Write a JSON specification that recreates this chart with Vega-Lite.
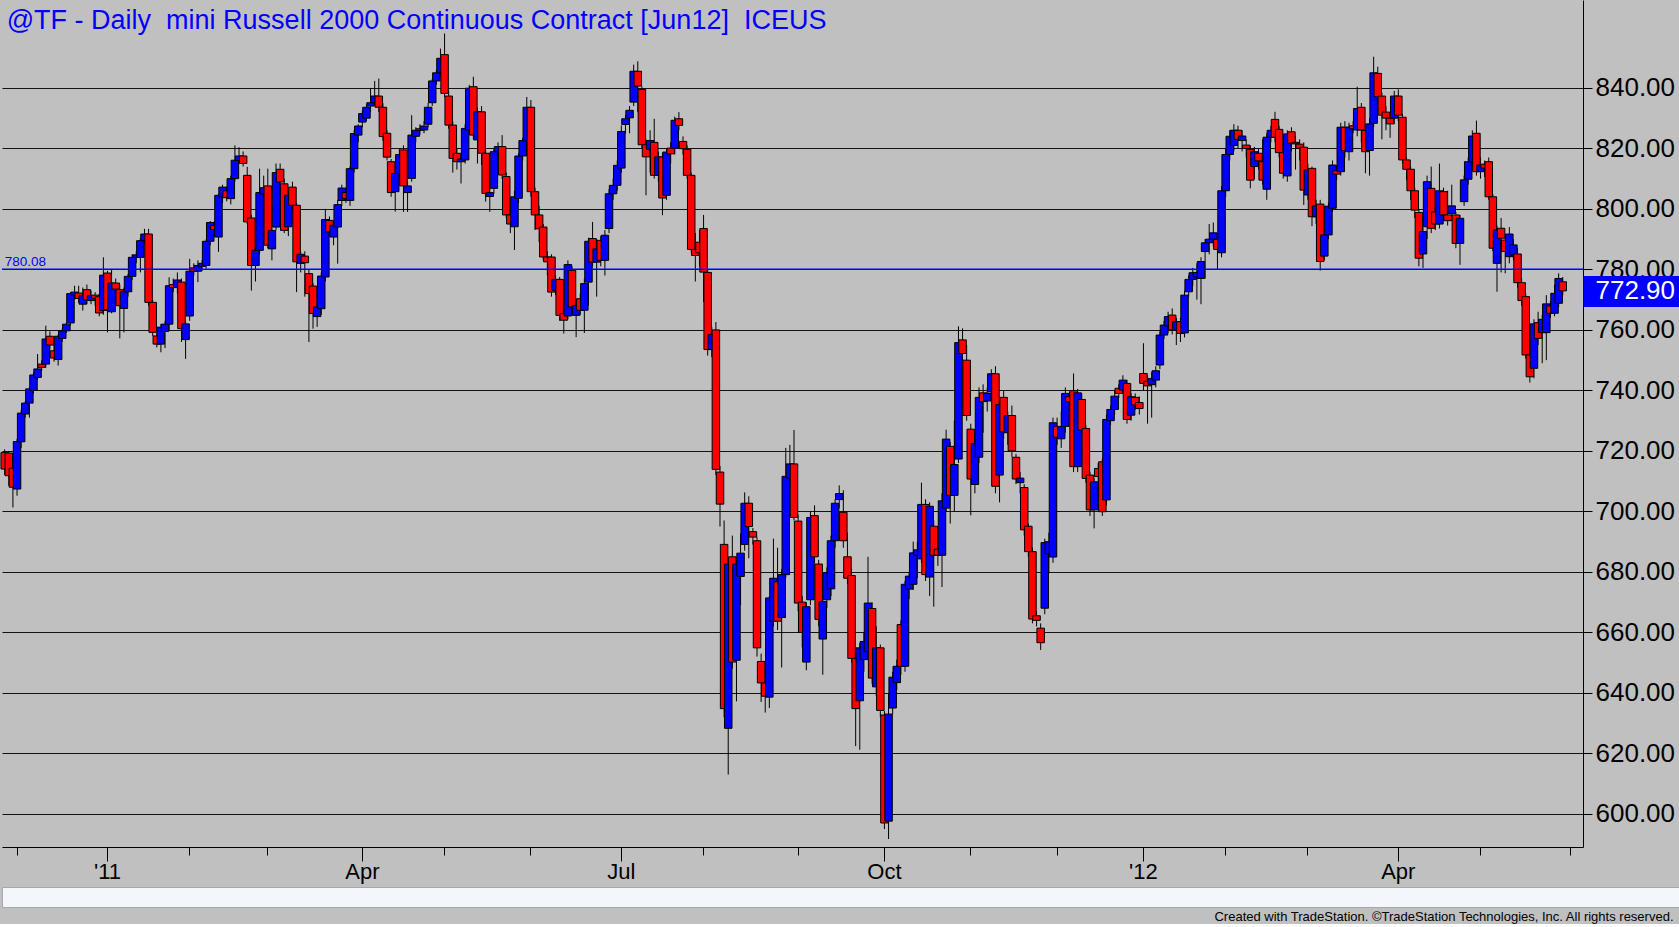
{
  "$schema": "https://vega.github.io/schema/vega-lite/v6.json",
  "background": "#C0C0C0",
  "padding": 0,
  "spacing": 4,
  "title": {
    "text": "Created with TradeStation. ©TradeStation Technologies, Inc. All rights reserved.",
    "orient": "bottom",
    "anchor": "end",
    "font": "Liberation Sans",
    "fontSize": 13,
    "fontWeight": "normal",
    "color": "#000000",
    "offset": 3,
    "dx": -23
  },
  "datasets": {
    "tf": [
      {"d":"2010-11-26","o":719.5,"h":720.5,"l":712,"c":714},
      {"d":"2010-11-29","o":719.3,"h":720,"l":708.5,"c":711.8},
      {"d":"2010-11-30","o":714.3,"h":715,"l":701.3,"c":708},
      {"d":"2010-12-01","o":707.4,"h":724,"l":705.2,"c":723.1},
      {"d":"2010-12-02","o":723,"h":733.5,"l":721,"c":732.5},
      {"d":"2010-12-03","o":732.2,"h":736.5,"l":731,"c":735.8},
      {"d":"2010-12-06","o":735.8,"h":741,"l":731,"c":740.5},
      {"d":"2010-12-07","o":740,"h":746,"l":739,"c":745.1},
      {"d":"2010-12-08","o":744.3,"h":752,"l":743.5,"c":747.1},
      {"d":"2010-12-09","o":748.7,"h":750,"l":746.5,"c":747.6},
      {"d":"2010-12-10","o":748.7,"h":761.4,"l":747.5,"c":757},
      {"d":"2010-12-13","o":757.9,"h":759.5,"l":753.5,"c":755},
      {"d":"2010-12-14","o":753.1,"h":755,"l":749.5,"c":750.7},
      {"d":"2010-12-15","o":750.2,"h":758.5,"l":748.2,"c":757.9},
      {"d":"2010-12-16","o":757.2,"h":760.5,"l":756,"c":759.7},
      {"d":"2010-12-17","o":759.7,"h":762.5,"l":759,"c":761.9},
      {"d":"2010-12-20","o":762.3,"h":772.5,"l":761.5,"c":772},
      {"d":"2010-12-21","o":771.5,"h":774.6,"l":770,"c":772.5},
      {"d":"2010-12-22","o":772.2,"h":774.6,"l":769,"c":770.4},
      {"d":"2010-12-23","o":768.5,"h":774,"l":766.4,"c":771.3},
      {"d":"2010-12-27","o":773.3,"h":775,"l":768.5,"c":770},
      {"d":"2010-12-28","o":769.7,"h":773,"l":768.5,"c":771.3},
      {"d":"2010-12-29","o":771.5,"h":772.5,"l":768,"c":770.5},
      {"d":"2010-12-30","o":771,"h":772,"l":764.5,"c":765.6},
      {"d":"2010-12-31","o":766.4,"h":784,"l":765,"c":778.1},
      {"d":"2011-01-03","o":778.8,"h":779.5,"l":759.2,"c":766.7},
      {"d":"2011-01-04","o":766,"h":780.1,"l":765.5,"c":775.5},
      {"d":"2011-01-05","o":775.5,"h":777,"l":772,"c":773.5},
      {"d":"2011-01-06","o":773.3,"h":775,"l":757.2,"c":768},
      {"d":"2011-01-07","o":767.1,"h":774,"l":759.2,"c":772.6},
      {"d":"2011-01-10","o":772.6,"h":778.5,"l":771,"c":777.7},
      {"d":"2011-01-11","o":777.7,"h":785,"l":776.5,"c":784},
      {"d":"2011-01-12","o":784,"h":786,"l":782,"c":784.8},
      {"d":"2011-01-13","o":784,"h":790.5,"l":779,"c":789.5},
      {"d":"2011-01-14","o":789.5,"h":793.4,"l":788.5,"c":791.7},
      {"d":"2011-01-18","o":791.7,"h":793.4,"l":768,"c":769.1},
      {"d":"2011-01-19","o":769.1,"h":770,"l":758,"c":759.2},
      {"d":"2011-01-20","o":758,"h":759,"l":754.2,"c":755.3},
      {"d":"2011-01-21","o":755.3,"h":762,"l":752.6,"c":760.9},
      {"d":"2011-01-24","o":759.5,"h":763,"l":754,"c":761.9},
      {"d":"2011-01-25","o":761.9,"h":777.4,"l":760,"c":774.6},
      {"d":"2011-01-26","o":775,"h":777,"l":772.5,"c":774},
      {"d":"2011-01-27","o":774,"h":779,"l":772,"c":776.5},
      {"d":"2011-01-28","o":775.8,"h":777,"l":756,"c":760.4},
      {"d":"2011-01-31","o":756.8,"h":763,"l":750.4,"c":762},
      {"d":"2011-02-01","o":764.6,"h":783.5,"l":763,"c":779.4},
      {"d":"2011-02-02","o":780.5,"h":782,"l":778,"c":779.4},
      {"d":"2011-02-03","o":779.4,"h":783,"l":775.8,"c":781.3},
      {"d":"2011-02-04","o":781,"h":783,"l":779.5,"c":782},
      {"d":"2011-02-07","o":781.3,"h":790,"l":780,"c":789.3},
      {"d":"2011-02-08","o":789.3,"h":796,"l":788,"c":795.5},
      {"d":"2011-02-09","o":794.5,"h":796,"l":791,"c":793.2},
      {"d":"2011-02-10","o":790.7,"h":805,"l":785.8,"c":804.5},
      {"d":"2011-02-11","o":803.9,"h":808,"l":802,"c":807.2},
      {"d":"2011-02-14","o":806,"h":807.5,"l":802.5,"c":803.7},
      {"d":"2011-02-15","o":803.4,"h":811,"l":801.5,"c":810},
      {"d":"2011-02-16","o":810,"h":821,"l":809,"c":816.1},
      {"d":"2011-02-17","o":816,"h":820.4,"l":815,"c":817.5},
      {"d":"2011-02-18","o":817.5,"h":819,"l":814,"c":815},
      {"d":"2011-02-22","o":811.1,"h":813.9,"l":795,"c":795.7},
      {"d":"2011-02-23","o":797,"h":798,"l":773,"c":781.3},
      {"d":"2011-02-24","o":781.3,"h":787,"l":776,"c":786.3},
      {"d":"2011-02-25","o":786.3,"h":813.3,"l":785,"c":805.4},
      {"d":"2011-02-28","o":805,"h":811,"l":803,"c":807},
      {"d":"2011-03-01","o":807.6,"h":813.3,"l":787,"c":788},
      {"d":"2011-03-02","o":786.8,"h":794,"l":783,"c":792.9},
      {"d":"2011-03-03","o":794,"h":815,"l":793,"c":812},
      {"d":"2011-03-04","o":813.1,"h":815,"l":807,"c":808.9},
      {"d":"2011-03-07","o":808.3,"h":810,"l":792,"c":792.9},
      {"d":"2011-03-08","o":794.1,"h":806,"l":791,"c":804.5},
      {"d":"2011-03-09","o":807.2,"h":809,"l":799,"c":801.2},
      {"d":"2011-03-10","o":801.2,"h":802,"l":772.5,"c":782.5},
      {"d":"2011-03-11","o":782,"h":786,"l":779,"c":785},
      {"d":"2011-03-14","o":784.4,"h":786,"l":771,"c":782.2},
      {"d":"2011-03-15","o":778.6,"h":780,"l":756,"c":772},
      {"d":"2011-03-16","o":774.5,"h":775.5,"l":760.4,"c":765.4},
      {"d":"2011-03-17","o":764.4,"h":769,"l":761,"c":767.6},
      {"d":"2011-03-18","o":767,"h":779,"l":765,"c":777.8},
      {"d":"2011-03-21","o":777.5,"h":800,"l":776,"c":796.5},
      {"d":"2011-03-22","o":796.2,"h":797.5,"l":791,"c":792.4},
      {"d":"2011-03-23","o":790.7,"h":796,"l":788,"c":794.6},
      {"d":"2011-03-24","o":794,"h":803,"l":781.9,"c":801.4},
      {"d":"2011-03-25","o":802.8,"h":808,"l":801,"c":806.9},
      {"d":"2011-03-28","o":805.4,"h":807,"l":802,"c":803.4},
      {"d":"2011-03-29","o":802.8,"h":814,"l":801,"c":813.3},
      {"d":"2011-03-30","o":813.3,"h":826,"l":812,"c":824.9},
      {"d":"2011-03-31","o":824.4,"h":828,"l":822,"c":827.4},
      {"d":"2011-04-01","o":828.7,"h":832.5,"l":827,"c":831.5},
      {"d":"2011-04-04","o":830,"h":834.5,"l":829,"c":833.6},
      {"d":"2011-04-05","o":834,"h":840,"l":832,"c":835.1},
      {"d":"2011-04-06","o":835.1,"h":842.3,"l":834,"c":837.3},
      {"d":"2011-04-07","o":837.3,"h":843.1,"l":832,"c":833.6},
      {"d":"2011-04-08","o":833.6,"h":835,"l":822.5,"c":823.9},
      {"d":"2011-04-11","o":825,"h":826,"l":816,"c":817.1},
      {"d":"2011-04-12","o":815.6,"h":816.5,"l":804,"c":805.4},
      {"d":"2011-04-13","o":805.7,"h":813,"l":799.1,"c":811.7},
      {"d":"2011-04-14","o":811.7,"h":820,"l":810,"c":818},
      {"d":"2011-04-15","o":819.5,"h":821,"l":799,"c":807.6},
      {"d":"2011-04-18","o":805.4,"h":809,"l":799,"c":807.6},
      {"d":"2011-04-19","o":810.1,"h":831,"l":809,"c":824.4},
      {"d":"2011-04-20","o":824,"h":827,"l":822,"c":826},
      {"d":"2011-04-21","o":826.5,"h":828,"l":824.5,"c":826},
      {"d":"2011-04-25","o":826.1,"h":829,"l":825,"c":827.4},
      {"d":"2011-04-26","o":828,"h":835,"l":827,"c":833.6},
      {"d":"2011-04-27","o":835.1,"h":843,"l":834,"c":842.3},
      {"d":"2011-04-28","o":842.3,"h":846,"l":841,"c":845},
      {"d":"2011-04-29","o":845,"h":853,"l":844,"c":849.8},
      {"d":"2011-05-02","o":851,"h":858,"l":837,"c":838.2},
      {"d":"2011-05-03","o":837.3,"h":839,"l":826.5,"c":827.7},
      {"d":"2011-05-04","o":827.7,"h":829,"l":812,"c":816.7},
      {"d":"2011-05-05","o":818.4,"h":820,"l":813,"c":815.6},
      {"d":"2011-05-06","o":815.6,"h":818,"l":808.4,"c":816.5},
      {"d":"2011-05-09","o":816.2,"h":828,"l":815,"c":826.6},
      {"d":"2011-05-10","o":826.1,"h":841,"l":825,"c":839.9},
      {"d":"2011-05-11","o":840.4,"h":843.7,"l":823,"c":824.4},
      {"d":"2011-05-12","o":822.8,"h":833.5,"l":815,"c":832.1},
      {"d":"2011-05-13","o":832.1,"h":834,"l":814.5,"c":818.4},
      {"d":"2011-05-16","o":818.4,"h":819.5,"l":802.4,"c":805.1},
      {"d":"2011-05-17","o":804.1,"h":807,"l":799,"c":805.4},
      {"d":"2011-05-18","o":806.8,"h":820,"l":805,"c":818.9},
      {"d":"2011-05-19","o":818.9,"h":822,"l":816,"c":820.6},
      {"d":"2011-05-20","o":820.6,"h":824.4,"l":810,"c":811.2},
      {"d":"2011-05-23","o":810.7,"h":812,"l":797,"c":798},
      {"d":"2011-05-24","o":798,"h":800,"l":792,"c":795},
      {"d":"2011-05-25","o":794.1,"h":806,"l":786.4,"c":804},
      {"d":"2011-05-26","o":803.5,"h":818.5,"l":802,"c":817.5},
      {"d":"2011-05-27","o":817.5,"h":823.5,"l":816,"c":822.6},
      {"d":"2011-05-31","o":822.4,"h":837,"l":821,"c":833.6},
      {"d":"2011-06-01","o":833.6,"h":836,"l":804,"c":805.7},
      {"d":"2011-06-02","o":805.7,"h":807,"l":793,"c":798},
      {"d":"2011-06-03","o":798,"h":801,"l":789,"c":793.4},
      {"d":"2011-06-06","o":794,"h":795,"l":783,"c":784.1},
      {"d":"2011-06-07","o":784.1,"h":786,"l":778,"c":782.5},
      {"d":"2011-06-08","o":784.1,"h":785,"l":771,"c":772.5},
      {"d":"2011-06-09","o":773.1,"h":778,"l":771.5,"c":776.7},
      {"d":"2011-06-10","o":776.7,"h":777.5,"l":763,"c":764.8},
      {"d":"2011-06-13","o":765.4,"h":767,"l":758.8,"c":763.2},
      {"d":"2011-06-14","o":764.6,"h":783,"l":763.5,"c":781.6},
      {"d":"2011-06-15","o":779.7,"h":781,"l":766,"c":767.6},
      {"d":"2011-06-16","o":764.8,"h":770,"l":757.6,"c":768.1},
      {"d":"2011-06-17","o":770.3,"h":772,"l":765,"c":766.5},
      {"d":"2011-06-20","o":766.5,"h":777,"l":759,"c":775.3},
      {"d":"2011-06-21","o":775.8,"h":790.5,"l":768,"c":789.3},
      {"d":"2011-06-22","o":790.2,"h":795.7,"l":781,"c":782.4},
      {"d":"2011-06-23","o":782.4,"h":790,"l":771,"c":786.8},
      {"d":"2011-06-24","o":789.6,"h":791,"l":781,"c":783},
      {"d":"2011-06-27","o":783,"h":793,"l":778,"c":791.3},
      {"d":"2011-06-28","o":793.5,"h":806.5,"l":792,"c":805},
      {"d":"2011-06-29","o":805,"h":810,"l":803,"c":807.8},
      {"d":"2011-06-30","o":807.8,"h":816,"l":806,"c":814.4},
      {"d":"2011-07-01","o":813.5,"h":827.6,"l":812,"c":825.6},
      {"d":"2011-07-05","o":827.9,"h":831,"l":825,"c":829.8},
      {"d":"2011-07-06","o":830.1,"h":834,"l":825,"c":832.6},
      {"d":"2011-07-07","o":835.3,"h":847.7,"l":834,"c":845.5},
      {"d":"2011-07-08","o":845.5,"h":848.8,"l":832,"c":840.6},
      {"d":"2011-07-11","o":839.5,"h":840.5,"l":820,"c":821.2},
      {"d":"2011-07-12","o":821.2,"h":823,"l":804.5,"c":817.2},
      {"d":"2011-07-13","o":819.7,"h":826,"l":812,"c":822.6},
      {"d":"2011-07-14","o":822,"h":829.8,"l":810,"c":811.1},
      {"d":"2011-07-15","o":811.1,"h":819,"l":809,"c":817.2},
      {"d":"2011-07-18","o":817.2,"h":818.5,"l":797.9,"c":803.6},
      {"d":"2011-07-19","o":804.5,"h":820,"l":803,"c":818.8},
      {"d":"2011-07-20","o":820.1,"h":822,"l":815,"c":818.2},
      {"d":"2011-07-21","o":820.1,"h":830.5,"l":818,"c":829.3},
      {"d":"2011-07-22","o":829.8,"h":832,"l":826,"c":827.6},
      {"d":"2011-07-25","o":822.3,"h":824,"l":818,"c":819.9},
      {"d":"2011-07-26","o":819.7,"h":821,"l":810,"c":811.1},
      {"d":"2011-07-27","o":811.1,"h":812,"l":785.5,"c":786.6},
      {"d":"2011-07-28","o":786.6,"h":792,"l":776,"c":784.6},
      {"d":"2011-07-29","o":789,"h":793,"l":781,"c":785.5},
      {"d":"2011-08-01","o":793.5,"h":798,"l":769.2,"c":779.1},
      {"d":"2011-08-02","o":779,"h":780,"l":751.5,"c":753.5},
      {"d":"2011-08-03","o":753.5,"h":761,"l":751,"c":758.5},
      {"d":"2011-08-04","o":760,"h":762.6,"l":712,"c":713.9},
      {"d":"2011-08-05","o":713,"h":715,"l":695,"c":702.4},
      {"d":"2011-08-08","o":689.1,"h":697,"l":632,"c":634.8},
      {"d":"2011-08-09","o":628.3,"h":684,"l":613,"c":682.6},
      {"d":"2011-08-10","o":685,"h":692,"l":648,"c":650.2},
      {"d":"2011-08-11","o":650.8,"h":684,"l":637.2,"c":682.6},
      {"d":"2011-08-12","o":678.5,"h":692.7,"l":669,"c":686.2},
      {"d":"2011-08-15","o":689.1,"h":706.3,"l":687,"c":702.7},
      {"d":"2011-08-16","o":702.7,"h":705,"l":684.5,"c":695},
      {"d":"2011-08-17","o":693.3,"h":694.5,"l":689,"c":691.5},
      {"d":"2011-08-18","o":690.3,"h":691.5,"l":652,"c":654.9},
      {"d":"2011-08-19","o":650.4,"h":653,"l":637,"c":643.3},
      {"d":"2011-08-22","o":643.3,"h":645,"l":633.5,"c":638.9},
      {"d":"2011-08-23","o":638.6,"h":672,"l":635,"c":671.4},
      {"d":"2011-08-24","o":663.7,"h":691,"l":662,"c":677.9},
      {"d":"2011-08-25","o":676.7,"h":688,"l":660.8,"c":663.7},
      {"d":"2011-08-26","o":664.9,"h":681,"l":648.4,"c":679.1},
      {"d":"2011-08-29","o":679.1,"h":721,"l":678,"c":711.6},
      {"d":"2011-08-30","o":711,"h":722,"l":708,"c":715.7},
      {"d":"2011-08-31","o":715.7,"h":726.9,"l":697,"c":698},
      {"d":"2011-09-01","o":696.8,"h":699,"l":667,"c":669.7},
      {"d":"2011-09-02","o":670,"h":672,"l":655,"c":660},
      {"d":"2011-09-06","o":650.2,"h":670,"l":647.5,"c":668.5},
      {"d":"2011-09-07","o":670.8,"h":700,"l":669,"c":698},
      {"d":"2011-09-08","o":698.6,"h":702,"l":683,"c":685},
      {"d":"2011-09-09","o":682.6,"h":684,"l":662,"c":664.3},
      {"d":"2011-09-12","o":657.8,"h":672,"l":646,"c":670.2},
      {"d":"2011-09-13","o":670.8,"h":681.5,"l":668,"c":679.7},
      {"d":"2011-09-14","o":674.4,"h":692,"l":672,"c":690.3},
      {"d":"2011-09-15","o":690.3,"h":704,"l":688,"c":702.7},
      {"d":"2011-09-16","o":703.9,"h":708.6,"l":701,"c":705.9},
      {"d":"2011-09-19","o":699.7,"h":707,"l":688,"c":690.3},
      {"d":"2011-09-20","o":685,"h":693,"l":676,"c":677.9},
      {"d":"2011-09-21","o":678.8,"h":681,"l":650,"c":651.4},
      {"d":"2011-09-22","o":651.4,"h":653,"l":622.4,"c":634.8},
      {"d":"2011-09-23","o":637.4,"h":656.5,"l":621.2,"c":654.9},
      {"d":"2011-09-26","o":651,"h":660,"l":647,"c":657},
      {"d":"2011-09-27","o":653.7,"h":685,"l":652,"c":669.7},
      {"d":"2011-09-28","o":667.9,"h":670,"l":643,"c":644.9},
      {"d":"2011-09-29","o":642,"h":662,"l":639,"c":654.9},
      {"d":"2011-09-30","o":654.9,"h":656,"l":632,"c":634.2},
      {"d":"2011-10-03","o":632.7,"h":634,"l":595,"c":597},
      {"d":"2011-10-04","o":597.6,"h":640,"l":591.7,"c":633},
      {"d":"2011-10-05","o":635,"h":647,"l":633,"c":645.2},
      {"d":"2011-10-06","o":643.4,"h":651,"l":641,"c":648.8},
      {"d":"2011-10-07","o":662.6,"h":664,"l":646,"c":648.8},
      {"d":"2011-10-10","o":648.8,"h":677,"l":647,"c":675.9},
      {"d":"2011-10-11","o":674.3,"h":680,"l":671,"c":678.6},
      {"d":"2011-10-12","o":675.9,"h":690,"l":674,"c":686.3},
      {"d":"2011-10-13","o":685.5,"h":690,"l":678,"c":687.3},
      {"d":"2011-10-14","o":684.3,"h":709.5,"l":683,"c":702.3},
      {"d":"2011-10-17","o":702.3,"h":704,"l":677,"c":679.1},
      {"d":"2011-10-18","o":678.3,"h":703,"l":672,"c":701.7},
      {"d":"2011-10-19","o":695.1,"h":697,"l":668.5,"c":685.5},
      {"d":"2011-10-20","o":687.5,"h":689,"l":682,"c":685.5},
      {"d":"2011-10-21","o":685.5,"h":706,"l":675,"c":703.5},
      {"d":"2011-10-24","o":701.1,"h":727,"l":700,"c":723.9},
      {"d":"2011-10-25","o":721.5,"h":723,"l":696,"c":705.3},
      {"d":"2011-10-26","o":705.3,"h":730,"l":700,"c":715.5},
      {"d":"2011-10-27","o":717.3,"h":761.2,"l":716,"c":755.8},
      {"d":"2011-10-28","o":756.7,"h":760.5,"l":750,"c":752.2},
      {"d":"2011-10-31","o":750,"h":755,"l":730,"c":731.7},
      {"d":"2011-11-01","o":727.2,"h":729,"l":698.7,"c":710.7},
      {"d":"2011-11-02","o":708.9,"h":724,"l":706,"c":722.4},
      {"d":"2011-11-03","o":717.9,"h":741,"l":716,"c":737.7},
      {"d":"2011-11-04","o":739.2,"h":742,"l":726,"c":736.3},
      {"d":"2011-11-07","o":736.5,"h":741,"l":733,"c":739},
      {"d":"2011-11-08","o":739.5,"h":747,"l":737,"c":745.5},
      {"d":"2011-11-09","o":745.5,"h":748,"l":706,"c":708.3},
      {"d":"2011-11-10","o":712,"h":737,"l":703,"c":735.3},
      {"d":"2011-11-11","o":737.7,"h":740,"l":724,"c":726.3},
      {"d":"2011-11-14","o":726,"h":733,"l":722,"c":731.7},
      {"d":"2011-11-15","o":731.7,"h":735,"l":718,"c":720},
      {"d":"2011-11-16","o":717.9,"h":719,"l":709,"c":710.7},
      {"d":"2011-11-17","o":709.5,"h":713,"l":706,"c":711},
      {"d":"2011-11-18","o":707.9,"h":709,"l":692,"c":693.9},
      {"d":"2011-11-21","o":695.1,"h":696,"l":685,"c":686.7},
      {"d":"2011-11-22","o":686.7,"h":688,"l":663,"c":664.4},
      {"d":"2011-11-23","o":665.5,"h":667,"l":662,"c":664},
      {"d":"2011-11-25","o":661.4,"h":663,"l":654.2,"c":656.6},
      {"d":"2011-11-28","o":668,"h":691,"l":666,"c":689.7},
      {"d":"2011-11-29","o":686,"h":693,"l":679.5,"c":690},
      {"d":"2011-11-30","o":684.9,"h":731,"l":683,"c":729.3},
      {"d":"2011-12-01","o":728.1,"h":731,"l":722,"c":724.5},
      {"d":"2011-12-02","o":724,"h":733,"l":721,"c":728},
      {"d":"2011-12-05","o":728.1,"h":741,"l":726,"c":739},
      {"d":"2011-12-06","o":737.9,"h":739.5,"l":734,"c":736.3},
      {"d":"2011-12-07","o":739.9,"h":745.6,"l":713,"c":714.8},
      {"d":"2011-12-08","o":714.8,"h":740.5,"l":713,"c":739.2},
      {"d":"2011-12-09","o":737,"h":739,"l":725,"c":726.9},
      {"d":"2011-12-12","o":727.4,"h":728.5,"l":709.5,"c":710.9},
      {"d":"2011-12-13","o":712,"h":713,"l":698.5,"c":700.5},
      {"d":"2011-12-14","o":700.5,"h":711,"l":694.4,"c":709.8},
      {"d":"2011-12-15","o":714.2,"h":716,"l":710,"c":711.5},
      {"d":"2011-12-16","o":716.4,"h":717.5,"l":698.5,"c":699.9},
      {"d":"2011-12-19","o":703.8,"h":732,"l":702,"c":730.4},
      {"d":"2011-12-20","o":730,"h":735,"l":728.5,"c":733.7},
      {"d":"2011-12-21","o":733.7,"h":740,"l":732,"c":738.1},
      {"d":"2011-12-22","o":740.7,"h":742,"l":737.5,"c":739},
      {"d":"2011-12-23","o":740.1,"h":745,"l":739,"c":743.4},
      {"d":"2011-12-27","o":742.3,"h":743.5,"l":729,"c":730.4},
      {"d":"2011-12-28","o":731.8,"h":739,"l":730,"c":737.9},
      {"d":"2011-12-29","o":737.7,"h":739,"l":733.5,"c":735.2},
      {"d":"2011-12-30","o":736,"h":738,"l":732,"c":734},
      {"d":"2012-01-03","o":745.6,"h":755.6,"l":740,"c":742.3},
      {"d":"2012-01-04","o":743,"h":745,"l":729,"c":741.5},
      {"d":"2012-01-05","o":741.9,"h":746,"l":731,"c":743.9},
      {"d":"2012-01-06","o":743.4,"h":748,"l":741,"c":746.5},
      {"d":"2012-01-09","o":748.4,"h":759.5,"l":747,"c":758.3},
      {"d":"2012-01-10","o":758.3,"h":763,"l":757,"c":761.6},
      {"d":"2012-01-11","o":761.3,"h":766,"l":759,"c":764.4},
      {"d":"2012-01-12","o":764.9,"h":767.1,"l":758.5,"c":760},
      {"d":"2012-01-13","o":760,"h":764,"l":755,"c":762.7},
      {"d":"2012-01-17","o":762.7,"h":764,"l":756,"c":758.8},
      {"d":"2012-01-18","o":759,"h":773,"l":757.5,"c":771.5},
      {"d":"2012-01-19","o":772.6,"h":778,"l":771,"c":776.7},
      {"d":"2012-01-20","o":776.7,"h":780.5,"l":774.5,"c":778.9},
      {"d":"2012-01-23","o":777.5,"h":782,"l":770,"c":779},
      {"d":"2012-01-24","o":777,"h":784,"l":768.5,"c":782.6},
      {"d":"2012-01-25","o":785.9,"h":790,"l":777,"c":788.8},
      {"d":"2012-01-26","o":788.8,"h":795,"l":785,"c":790},
      {"d":"2012-01-27","o":790,"h":795.5,"l":787.5,"c":792.1},
      {"d":"2012-01-30","o":789.9,"h":791,"l":780,"c":786.6},
      {"d":"2012-01-31","o":785.5,"h":807.5,"l":784,"c":806},
      {"d":"2012-02-01","o":806,"h":820,"l":804,"c":818},
      {"d":"2012-02-02","o":818,"h":826,"l":816,"c":824},
      {"d":"2012-02-03","o":821,"h":828,"l":819,"c":826},
      {"d":"2012-02-06","o":826,"h":827.5,"l":820,"c":823},
      {"d":"2012-02-07","o":822.6,"h":826,"l":819,"c":824.1},
      {"d":"2012-02-08","o":821.1,"h":823,"l":817,"c":820},
      {"d":"2012-02-09","o":819.7,"h":821,"l":806.8,"c":809.5},
      {"d":"2012-02-10","o":814,"h":820.5,"l":810,"c":818.9},
      {"d":"2012-02-13","o":818.4,"h":820,"l":813,"c":815.9},
      {"d":"2012-02-14","o":815.6,"h":823,"l":808,"c":809.5},
      {"d":"2012-02-15","o":806.5,"h":825,"l":803,"c":823.7},
      {"d":"2012-02-16","o":823.7,"h":827.5,"l":822,"c":826},
      {"d":"2012-02-17","o":829.6,"h":832.1,"l":822,"c":823.7},
      {"d":"2012-02-21","o":826.3,"h":827.5,"l":817,"c":818.6},
      {"d":"2012-02-22","o":818.6,"h":819.5,"l":810,"c":811.8},
      {"d":"2012-02-23","o":810.9,"h":826,"l":809,"c":824.8},
      {"d":"2012-02-24","o":825.5,"h":827,"l":819,"c":821.7},
      {"d":"2012-02-27","o":822,"h":824,"l":813,"c":821.5},
      {"d":"2012-02-28","o":821.4,"h":823,"l":816,"c":820},
      {"d":"2012-02-29","o":820.4,"h":822,"l":801.3,"c":806.2},
      {"d":"2012-03-01","o":804.6,"h":815,"l":803,"c":812.9},
      {"d":"2012-03-02","o":813.4,"h":814,"l":794.3,"c":797.4},
      {"d":"2012-03-05","o":797.4,"h":803,"l":795,"c":801},
      {"d":"2012-03-06","o":801.6,"h":803,"l":779.6,"c":782.6},
      {"d":"2012-03-07","o":784.4,"h":793,"l":783,"c":791.4},
      {"d":"2012-03-08","o":791.4,"h":802,"l":790,"c":800.9},
      {"d":"2012-03-09","o":800.2,"h":816,"l":799,"c":814.5},
      {"d":"2012-03-12","o":812.6,"h":814,"l":809.5,"c":811.5},
      {"d":"2012-03-13","o":812.3,"h":828.5,"l":811,"c":827},
      {"d":"2012-03-14","o":827,"h":829,"l":817,"c":819.3},
      {"d":"2012-03-15","o":818.9,"h":828.5,"l":816,"c":827},
      {"d":"2012-03-16","o":827.5,"h":829,"l":825,"c":826.5},
      {"d":"2012-03-19","o":826.1,"h":840.4,"l":824,"c":833.2},
      {"d":"2012-03-20","o":833.6,"h":835,"l":822,"c":826.1},
      {"d":"2012-03-21","o":825.9,"h":827,"l":811.8,"c":818.9},
      {"d":"2012-03-22","o":819.3,"h":830,"l":811,"c":828.1},
      {"d":"2012-03-23","o":828.3,"h":850.3,"l":827,"c":845},
      {"d":"2012-03-26","o":844.8,"h":847,"l":835,"c":837.1},
      {"d":"2012-03-27","o":837.3,"h":838.5,"l":823,"c":831},
      {"d":"2012-03-28","o":832,"h":834,"l":826,"c":830},
      {"d":"2012-03-29","o":830,"h":832,"l":823.5,"c":828.1},
      {"d":"2012-03-30","o":830,"h":839,"l":828,"c":837.3},
      {"d":"2012-04-02","o":837.3,"h":839.5,"l":829,"c":831},
      {"d":"2012-04-03","o":830.3,"h":831.5,"l":815,"c":816.2},
      {"d":"2012-04-04","o":816.2,"h":817,"l":809.5,"c":813.1},
      {"d":"2012-04-05","o":813.1,"h":814,"l":803,"c":806},
      {"d":"2012-04-09","o":806,"h":807,"l":797,"c":799.6},
      {"d":"2012-04-10","o":798.8,"h":800,"l":781,"c":783.7},
      {"d":"2012-04-11","o":785.1,"h":794,"l":780.5,"c":792.5},
      {"d":"2012-04-12","o":794.1,"h":811,"l":790,"c":809},
      {"d":"2012-04-13","o":806.8,"h":814,"l":792,"c":793.6},
      {"d":"2012-04-16","o":799,"h":801,"l":793,"c":795},
      {"d":"2012-04-17","o":795,"h":815,"l":793.5,"c":806},
      {"d":"2012-04-18","o":805.7,"h":807,"l":796,"c":798},
      {"d":"2012-04-19","o":798,"h":806,"l":794.5,"c":796.1},
      {"d":"2012-04-20","o":798.5,"h":808,"l":796,"c":801},
      {"d":"2012-04-23","o":798,"h":799,"l":787,"c":788.6},
      {"d":"2012-04-24","o":788.6,"h":798,"l":781.5,"c":796.9},
      {"d":"2012-04-25","o":802.4,"h":811,"l":801,"c":809.6},
      {"d":"2012-04-26","o":809.8,"h":817,"l":808,"c":815.6},
      {"d":"2012-04-27","o":815.6,"h":826,"l":814,"c":824.1},
      {"d":"2012-04-30","o":825,"h":829.2,"l":811,"c":812.3},
      {"d":"2012-05-01","o":812.3,"h":817,"l":810,"c":814.5},
      {"d":"2012-05-02","o":814.8,"h":816,"l":810.5,"c":813.5},
      {"d":"2012-05-03","o":815.6,"h":817,"l":803,"c":804},
      {"d":"2012-05-04","o":804,"h":805,"l":786,"c":787},
      {"d":"2012-05-07","o":782,"h":794.5,"l":772.6,"c":793},
      {"d":"2012-05-08","o":793.6,"h":797,"l":779,"c":790.3},
      {"d":"2012-05-09","o":789.7,"h":791,"l":778.7,"c":785.9},
      {"d":"2012-05-10","o":784.2,"h":794,"l":782,"c":791.7},
      {"d":"2012-05-11","o":784.8,"h":790,"l":783,"c":788.1},
      {"d":"2012-05-14","o":785.1,"h":787,"l":774,"c":775.6},
      {"d":"2012-05-15","o":775.6,"h":777,"l":768,"c":769.7},
      {"d":"2012-05-16","o":771,"h":772,"l":750.5,"c":751.7},
      {"d":"2012-05-17","o":751.7,"h":753,"l":742.6,"c":744.5},
      {"d":"2012-05-18","o":747.3,"h":763.5,"l":744,"c":762},
      {"d":"2012-05-21","o":762.4,"h":766,"l":755,"c":757.2},
      {"d":"2012-05-22","o":759.1,"h":765,"l":749,"c":763.5},
      {"d":"2012-05-23","o":759.1,"h":771.5,"l":750,"c":768.6},
      {"d":"2012-05-24","o":767.9,"h":769.5,"l":764,"c":765.5},
      {"d":"2012-05-25","o":765.5,"h":775,"l":764.5,"c":772.1},
      {"d":"2012-05-29","o":768.8,"h":778.7,"l":767.5,"c":777},
      {"d":"2012-05-30","o":775.9,"h":777.5,"l":771.5,"c":772.9}
    ]
  },
  "vconcat": [
    {
      "width": 1581,
      "height": 847,
      "data": {"name": "tf"},
      "layer": [
        {
          "mark": {"type": "rule", "color": "#000000", "strokeWidth": 1},
          "encoding": {
            "x": {
              "field": "d",
              "type": "ordinal",
              "scale": {
                "type": "band",
                "paddingInner": 0,
                "paddingOuter": 0.29,
                "align": 0.27,
                "domain": [
                  "2010-11-26","2010-11-29","2010-11-30",
                  "2010-12-01","2010-12-02","2010-12-03","2010-12-06","2010-12-07","2010-12-08","2010-12-09","2010-12-10","2010-12-13","2010-12-14","2010-12-15","2010-12-16","2010-12-17","2010-12-20","2010-12-21","2010-12-22","2010-12-23","2010-12-27","2010-12-28","2010-12-29","2010-12-30","2010-12-31",
                  "2011-01-03","2011-01-04","2011-01-05","2011-01-06","2011-01-07","2011-01-10","2011-01-11","2011-01-12","2011-01-13","2011-01-14","2011-01-18","2011-01-19","2011-01-20","2011-01-21","2011-01-24","2011-01-25","2011-01-26","2011-01-27","2011-01-28","2011-01-31",
                  "2011-02-01","2011-02-02","2011-02-03","2011-02-04","2011-02-07","2011-02-08","2011-02-09","2011-02-10","2011-02-11","2011-02-14","2011-02-15","2011-02-16","2011-02-17","2011-02-18","2011-02-22","2011-02-23","2011-02-24","2011-02-25","2011-02-28",
                  "2011-03-01","2011-03-02","2011-03-03","2011-03-04","2011-03-07","2011-03-08","2011-03-09","2011-03-10","2011-03-11","2011-03-14","2011-03-15","2011-03-16","2011-03-17","2011-03-18","2011-03-21","2011-03-22","2011-03-23","2011-03-24","2011-03-25","2011-03-28","2011-03-29","2011-03-30","2011-03-31",
                  "2011-04-01","2011-04-04","2011-04-05","2011-04-06","2011-04-07","2011-04-08","2011-04-11","2011-04-12","2011-04-13","2011-04-14","2011-04-15","2011-04-18","2011-04-19","2011-04-20","2011-04-21","2011-04-25","2011-04-26","2011-04-27","2011-04-28","2011-04-29",
                  "2011-05-02","2011-05-03","2011-05-04","2011-05-05","2011-05-06","2011-05-09","2011-05-10","2011-05-11","2011-05-12","2011-05-13","2011-05-16","2011-05-17","2011-05-18","2011-05-19","2011-05-20","2011-05-23","2011-05-24","2011-05-25","2011-05-26","2011-05-27","2011-05-31",
                  "2011-06-01","2011-06-02","2011-06-03","2011-06-06","2011-06-07","2011-06-08","2011-06-09","2011-06-10","2011-06-13","2011-06-14","2011-06-15","2011-06-16","2011-06-17","2011-06-20","2011-06-21","2011-06-22","2011-06-23","2011-06-24","2011-06-27","2011-06-28","2011-06-29","2011-06-30",
                  "2011-07-01","2011-07-05","2011-07-06","2011-07-07","2011-07-08","2011-07-11","2011-07-12","2011-07-13","2011-07-14","2011-07-15","2011-07-18","2011-07-19","2011-07-20","2011-07-21","2011-07-22","2011-07-25","2011-07-26","2011-07-27","2011-07-28","2011-07-29",
                  "2011-08-01","2011-08-02","2011-08-03","2011-08-04","2011-08-05","2011-08-08","2011-08-09","2011-08-10","2011-08-11","2011-08-12","2011-08-15","2011-08-16","2011-08-17","2011-08-18","2011-08-19","2011-08-22","2011-08-23","2011-08-24","2011-08-25","2011-08-26","2011-08-29","2011-08-30","2011-08-31",
                  "2011-09-01","2011-09-02","2011-09-06","2011-09-07","2011-09-08","2011-09-09","2011-09-12","2011-09-13","2011-09-14","2011-09-15","2011-09-16","2011-09-19","2011-09-20","2011-09-21","2011-09-22","2011-09-23","2011-09-26","2011-09-27","2011-09-28","2011-09-29","2011-09-30",
                  "2011-10-03","2011-10-04","2011-10-05","2011-10-06","2011-10-07","2011-10-10","2011-10-11","2011-10-12","2011-10-13","2011-10-14","2011-10-17","2011-10-18","2011-10-19","2011-10-20","2011-10-21","2011-10-24","2011-10-25","2011-10-26","2011-10-27","2011-10-28","2011-10-31",
                  "2011-11-01","2011-11-02","2011-11-03","2011-11-04","2011-11-07","2011-11-08","2011-11-09","2011-11-10","2011-11-11","2011-11-14","2011-11-15","2011-11-16","2011-11-17","2011-11-18","2011-11-21","2011-11-22","2011-11-23","2011-11-25","2011-11-28","2011-11-29","2011-11-30",
                  "2011-12-01","2011-12-02","2011-12-05","2011-12-06","2011-12-07","2011-12-08","2011-12-09","2011-12-12","2011-12-13","2011-12-14","2011-12-15","2011-12-16","2011-12-19","2011-12-20","2011-12-21","2011-12-22","2011-12-23","2011-12-27","2011-12-28","2011-12-29","2011-12-30",
                  "2012-01-03","2012-01-04","2012-01-05","2012-01-06","2012-01-09","2012-01-10","2012-01-11","2012-01-12","2012-01-13","2012-01-17","2012-01-18","2012-01-19","2012-01-20","2012-01-23","2012-01-24","2012-01-25","2012-01-26","2012-01-27","2012-01-30","2012-01-31",
                  "2012-02-01","2012-02-02","2012-02-03","2012-02-06","2012-02-07","2012-02-08","2012-02-09","2012-02-10","2012-02-13","2012-02-14","2012-02-15","2012-02-16","2012-02-17","2012-02-21","2012-02-22","2012-02-23","2012-02-24","2012-02-27","2012-02-28","2012-02-29",
                  "2012-03-01","2012-03-02","2012-03-05","2012-03-06","2012-03-07","2012-03-08","2012-03-09","2012-03-12","2012-03-13","2012-03-14","2012-03-15","2012-03-16","2012-03-19","2012-03-20","2012-03-21","2012-03-22","2012-03-23","2012-03-26","2012-03-27","2012-03-28","2012-03-29","2012-03-30",
                  "2012-04-02","2012-04-03","2012-04-04","2012-04-05","2012-04-09","2012-04-10","2012-04-11","2012-04-12","2012-04-13","2012-04-16","2012-04-17","2012-04-18","2012-04-19","2012-04-20","2012-04-23","2012-04-24","2012-04-25","2012-04-26","2012-04-27","2012-04-30",
                  "2012-05-01","2012-05-02","2012-05-03","2012-05-04","2012-05-07","2012-05-08","2012-05-09","2012-05-10","2012-05-11","2012-05-14","2012-05-15","2012-05-16","2012-05-17","2012-05-18","2012-05-21","2012-05-22","2012-05-23","2012-05-24","2012-05-25","2012-05-29","2012-05-30",
                  "2012-05-31","2012-06-01","2012-06-04","2012-06-05"
                ]
              },
              "axis": {
                "title": null,
                "values": ["2010-12-01","2011-01-03","2011-02-01","2011-03-01","2011-04-01","2011-05-02","2011-06-01","2011-07-01","2011-08-01","2011-09-01","2011-10-03","2011-11-01","2011-12-01","2012-01-03","2012-02-01","2012-03-01","2012-04-02","2012-05-01","2012-06-01"],
                "labelExpr": "datum.value == '2011-01-03' ? \"'11\" : datum.value == '2011-04-01' ? 'Apr' : datum.value == '2011-07-01' ? 'Jul' : datum.value == '2011-10-03' ? 'Oct' : datum.value == '2012-01-03' ? \"'12\" : datum.value == '2012-04-02' ? 'Apr' : ''",
                "labelAngle": 0,
                "labelFontSize": 22,
                "labelColor": "#000000",
                "labelPadding": 0,
                "labelOverlap": false,
                "tickColor": "#000000",
                "tickSize": {
                  "condition": {
                    "test": "indexof(['2011-01-03','2011-04-01','2011-07-01','2011-10-03','2012-01-03','2012-04-02'], datum.value) >= 0",
                    "value": 14
                  },
                  "value": 8
                },
                "domainColor": "#000000",
                "grid": false
              }
            },
            "y": {
              "field": "l",
              "type": "quantitative",
              "scale": {"domain": [589.06, 869.06], "nice": false, "zero": false},
              "axis": null
            },
            "y2": {"field": "h"}
          }
        },
        {
          "mark": {"type": "bar", "size": 7.5, "stroke": "#000000", "strokeWidth": 1},
          "encoding": {
            "x": {"field": "d", "type": "ordinal"},
            "y": {
              "field": "o",
              "type": "quantitative",
              "axis": {
                "orient": "right",
                "title": null,
                "values": [600, 620, 640, 660, 680, 700, 720, 740, 760, 780, 800, 820, 840],
                "format": ".2f",
                "labelFontSize": 26,
                "labelColor": "#000000",
                "labelPadding": 3,
                "tickSize": 9,
                "tickColor": "#000000",
                "domainColor": "#000000",
                "grid": true,
                "gridColor": "#000000",
                "gridOpacity": 0.9
              }
            },
            "y2": {"field": "c"},
            "color": {
              "condition": {"test": "datum.c >= datum.o", "value": "#0000FF"},
              "value": "#FF0000"
            }
          }
        },
        {
          "data": {"values": [{}]},
          "mark": {"type": "rule", "color": "#0000FF", "strokeWidth": 1.5},
          "encoding": {
            "y": {
              "datum": 780.08,
              "type": "quantitative",
              "axis": {
                "orient": "right",
                "title": null,
                "values": [772.9],
                "format": ".2f",
                "grid": false,
                "domain": false,
                "tickSize": 98,
                "tickWidth": 31,
                "tickColor": "#0000FF",
                "labelColor": "#FFFFFF",
                "labelFontSize": 26,
                "labelPadding": -86
              }
            }
          }
        },
        {
          "data": {"values": [{}]},
          "mark": {"type": "text", "align": "left", "baseline": "alphabetic", "dy": -3, "fontSize": 13.5, "color": "#0000FF"},
          "encoding": {
            "x": {"datum": "2010-11-26", "type": "ordinal"},
            "y": {"datum": 780.08, "type": "quantitative", "axis": null},
            "text": {"value": "780.08"}
          }
        },
        {
          "data": {"values": [{}]},
          "mark": {"type": "text", "align": "left", "baseline": "alphabetic", "dx": 2, "dy": 29, "fontSize": 27, "color": "#0000FF"},
          "encoding": {
            "x": {"datum": "2010-11-26", "type": "ordinal"},
            "y": {"datum": 869.06, "type": "quantitative", "axis": null},
            "text": {"value": "@TF - Daily\u00a0 mini Russell 2000 Continuous Contract [Jun12]\u00a0 ICEUS"}
          }
        }
      ],
      "resolve": {"axis": {"y": "independent"}}
    },
    {
      "width": 1679,
      "height": 20,
      "view": {"fill": "#F3F6FA", "stroke": "#A8A8A8"},
      "data": {"values": [{}]},
      "mark": {"type": "text"},
      "encoding": {"text": {"value": ""}}
    }
  ],
  "config": {
    "view": {"stroke": null},
    "font": "Liberation Sans",
    "axis": {"labelFont": "Liberation Sans", "titleFont": "Liberation Sans"}
  }
}
